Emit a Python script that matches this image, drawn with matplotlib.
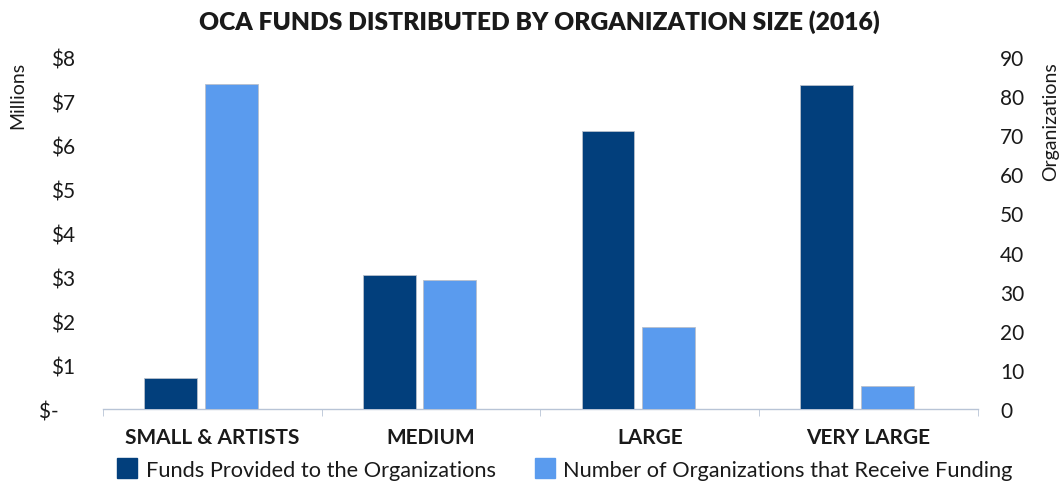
import matplotlib
matplotlib.use("Agg")
import matplotlib.pyplot as plt
import numpy as np
from matplotlib.patches import Patch

categories = ["SMALL & ARTISTS", "MEDIUM", "LARGE", "VERY LARGE"]
funds_millions = [0.70, 3.05, 6.32, 7.36]
num_orgs = [83, 33, 21, 6]
left_ticks = [0, 1, 2, 3, 4, 5, 6, 7, 8]
left_labels = ["$-   ", "$1", "$2", "$3", "$4", "$5", "$6", "$7", "$8"]
right_ticks = [0, 10, 20, 30, 40, 50, 60, 70, 80, 90]

dark = "#023F7C"
light = "#5A9BEE"
txt = "#1a1a1a"
font = "Lato"
plt.rcParams['font.family'] = [font, 'DejaVu Sans']

fig = plt.figure(figsize=(10.64, 4.85), dpi=100)
ax = fig.add_axes([0.0968, 0.1546, 0.8222, 0.7258])
ax2 = ax.twinx()

x = np.arange(len(categories))
w = 0.242
ax.bar(x - 0.191, funds_millions, width=w, color=dark, edgecolor="#b8c0cc", linewidth=0.6, zorder=3)
ax2.bar(x + 0.086, num_orgs, width=w, color=light, edgecolor="#b8c0cc", linewidth=0.6, zorder=3)

ax.set_xlim(-0.5, 3.5)
ax.set_ylim(0, 8)
ax2.set_ylim(0, 90)
ax.set_yticks(left_ticks)
ax.set_yticklabels(left_labels)
ax2.set_yticks(right_ticks)
ax.set_xticks(x)
ax.set_xticklabels(categories, fontweight="bold", fontsize=15, color=txt)
ax.set_xticks([-0.5, 0.5, 1.5, 2.5, 3.5], minor=True)
ax.tick_params(axis="x", which="major", length=0, pad=13)
ax.tick_params(axis="x", which="minor", length=5, color="#b8c4d6", direction="out")
ax.tick_params(axis="y", length=0, pad=20, labelsize=15, labelcolor=txt)
ax2.tick_params(axis="y", length=0, pad=16, labelsize=15, labelcolor=txt)

for a in (ax, ax2):
    for s in ("top", "right", "left"):
        a.spines[s].set_visible(False)
    a.spines["bottom"].set_color("#b8c4d6")
    a.spines["bottom"].set_linewidth(1.0)
ax2.spines["bottom"].set_visible(False)

fig.text(0.507, 1 - 22/485, "OCA FUNDS DISTRIBUTED BY ORGANIZATION SIZE (2016)", ha="center", va="center",
         fontsize=17.7, fontweight="heavy", color=txt)
fig.text(0.017, 1 - 62/485, "Millions", rotation=90, ha="center", va="top", fontsize=14, color=txt)
fig.text(0.987, 1 - 62/485, "Organizations", rotation=90, ha="center", va="top", fontsize=14, color=txt)

handles = [Patch(facecolor=dark, edgecolor=dark), Patch(facecolor=light, edgecolor=light)]
fig.legend(handles, ["Funds Provided to the Organizations", "Number of Organizations that Receive Funding"],
           loc="center", bbox_to_anchor=(0.531, 1 - 470/485), ncol=2, frameon=False, fontsize=15.7,
           handlelength=0.9, handleheight=1.0, handletextpad=0.4, columnspacing=1.8, labelcolor=txt)

fig.savefig("out.png", dpi=100, facecolor="white")
